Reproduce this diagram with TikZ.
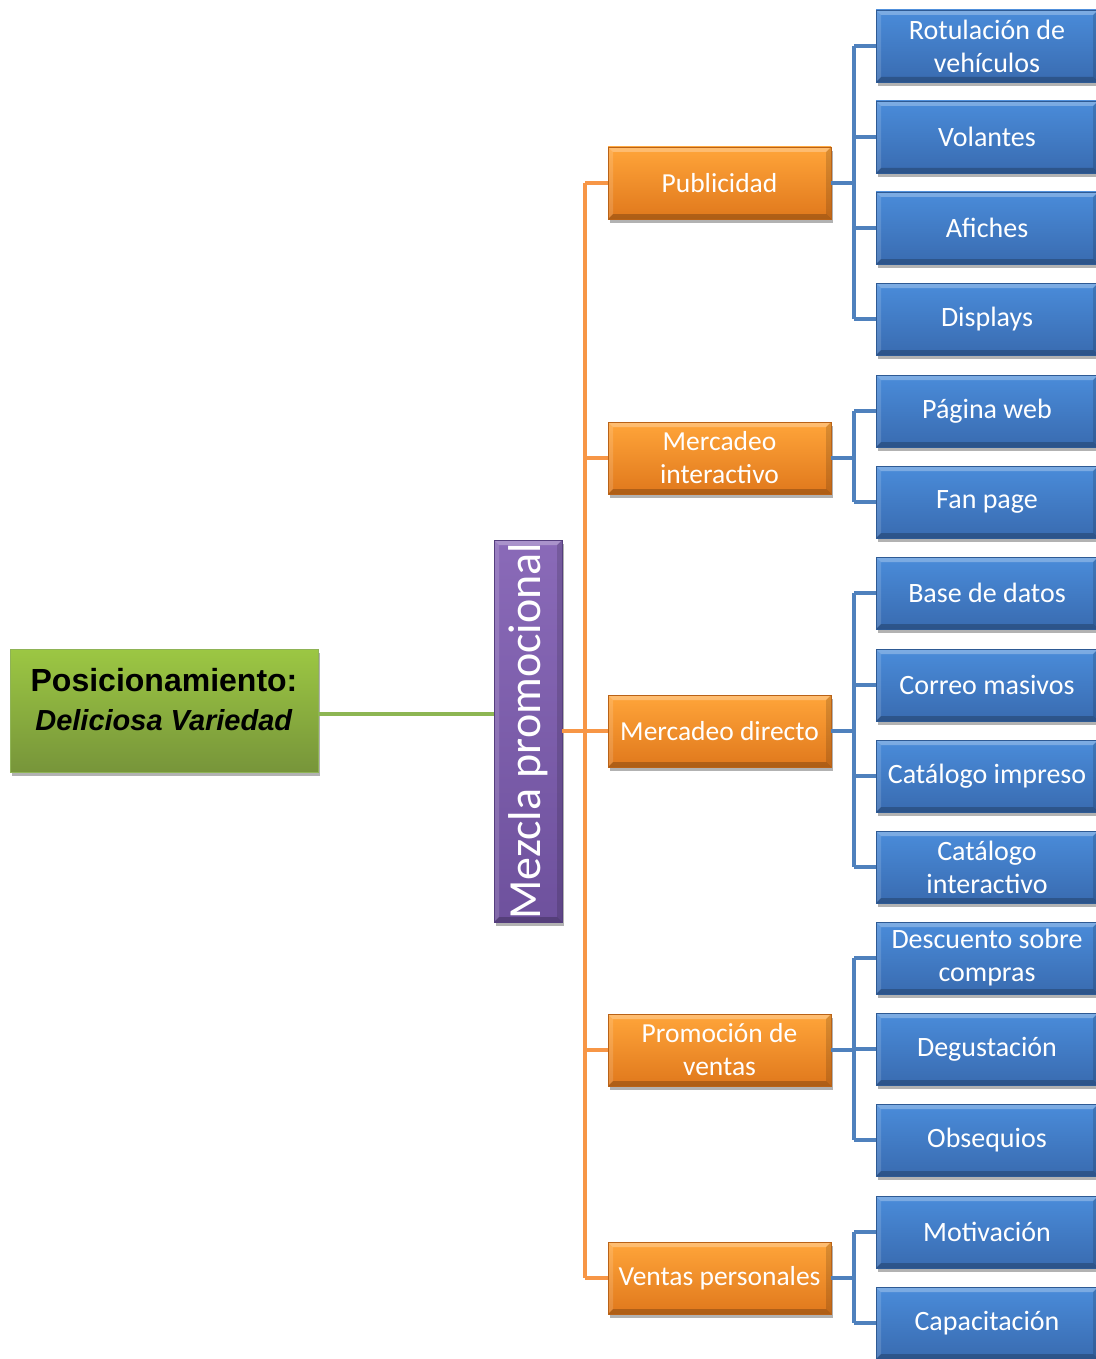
\documentclass[tikz,border=0pt]{standalone}
\usepackage{fontspec}
\setmainfont{Carlito}
\newfontfamily\arialf{Liberation Sans}
\usetikzlibrary{shadows}

\definecolor{orTop}{HTML}{FFA53A}
\definecolor{orBot}{HTML}{E0781C}
\definecolor{orEdge}{HTML}{B96217}
\definecolor{blTop}{HTML}{4A8CDA}
\definecolor{blBot}{HTML}{396BB0}
\definecolor{blEdge}{HTML}{2E5A94}
\definecolor{puTop}{HTML}{8A6AB8}
\definecolor{puBot}{HTML}{6E519D}
\definecolor{puEdge}{HTML}{553E7E}
\definecolor{grTop}{HTML}{9CC743}
\definecolor{grBot}{HTML}{77953A}
\definecolor{grEdge}{HTML}{8FB356}
\definecolor{orLine}{HTML}{F79646}
\definecolor{blLine}{HTML}{4F81BD}
\definecolor{grLine}{HTML}{8DB653}

\tikzset{
  bevel/.style={path picture={
    \fill[white,opacity=0.28] (path picture bounding box.north west) -- (path picture bounding box.north east)
      -- ([shift={(-5pt,-5pt)}]path picture bounding box.north east) -- ([shift={(5pt,-5pt)}]path picture bounding box.north west) -- cycle;
    \fill[white,opacity=0.14] (path picture bounding box.north west) -- (path picture bounding box.south west)
      -- ([shift={(5pt,5pt)}]path picture bounding box.south west) -- ([shift={(5pt,-5pt)}]path picture bounding box.north west) -- cycle;
    \fill[black,opacity=0.22] (path picture bounding box.south west) -- (path picture bounding box.south east)
      -- ([shift={(-5pt,5pt)}]path picture bounding box.south east) -- ([shift={(5pt,5pt)}]path picture bounding box.south west) -- cycle;
    \fill[black,opacity=0.14] (path picture bounding box.north east) -- (path picture bounding box.south east)
      -- ([shift={(-5pt,5pt)}]path picture bounding box.south east) -- ([shift={(-5pt,-5pt)}]path picture bounding box.north east) -- cycle;
  }},
  boxbase/.style={rectangle, inner sep=0pt, align=center, line width=0.8pt,
    drop shadow={shadow xshift=2pt, shadow yshift=-4pt, fill=black, opacity=0.3}},
  obox/.style={boxbase, bevel, draw=orEdge, top color=orTop, bottom color=orBot, text=white,
    minimum width=223pt, minimum height=72pt, font=\fontsize{27.5}{33}\selectfont},
  bbox/.style={boxbase, bevel, draw=blEdge, top color=blTop, bottom color=blBot, text=white,
    minimum width=222pt, minimum height=72pt, font=\fontsize{28}{33}\selectfont},
  pbox/.style={boxbase, bevel, draw=puEdge, top color=puTop, bottom color=puBot, text=white,
    minimum width=68pt, minimum height=382pt, font=\fontsize{46}{46}\selectfont},
  gbox/.style={boxbase, draw=grEdge, top color=grTop, bottom color=grBot,
    minimum width=308pt, minimum height=123pt},
  oline/.style={draw=orLine, line width=3.5pt, line join=round},
  bline/.style={draw=blLine, line width=3.5pt, line join=round},
  gline/.style={draw=grLine, line width=3.5pt},
}

\begin{document}
\begin{tikzpicture}[x=1pt,y=-1pt]
\useasboundingbox (0,0) rectangle (1095,1359);

% root
\node[gbox] (pos) at (164,710.5) {};
\node[text=black, align=center, font={\fontsize{29}{39}\selectfont\arialf\bfseries}] (postext) at (164,700)
  {{\fontsize{32}{39}\selectfont Posicionamiento:}\\\textit{Deliciosa Variedad}};

% centre
\node[pbox] (mez) at (528,731) {\rotatebox{90}{Mezcla promocional}};

% tools
\node[obox] (pub) at (719.5,183)  {Publicidad};
\node[obox] (mint) at (719.5,458) {Mercadeo\\interactivo};
\node[obox] (mdir) at (719.5,731) {Mercadeo directo};
\node[obox] (prom) at (719.5,1050) {Promoción de\\ventas};
\node[obox] (vent) at (719.5,1278) {Ventas personales};

% actions
\node[bbox] (b1)  at (987,46)   {Rotulación de\\vehículos};
\node[bbox] (b2)  at (987,137)  {Volantes};
\node[bbox] (b3)  at (987,228)  {Afiches};
\node[bbox] (b4)  at (987,319)  {Displays};
\node[bbox] (b5)  at (987,411)  {Página web};
\node[bbox] (b6)  at (987,502)  {Fan page};
\node[bbox] (b7)  at (987,593)  {Base de datos};
\node[bbox] (b8)  at (987,685)  {Correo masivos};
\node[bbox] (b9)  at (987,776)  {Catálogo impreso};
\node[bbox] (b10) at (987,867)  {Catálogo\\interactivo};
\node[bbox] (b11) at (987,958)  {Descuento sobre\\compras};
\node[bbox] (b12) at (987,1049) {Degustación};
\node[bbox] (b13) at (987,1140) {Obsequios};
\node[bbox] (b14) at (987,1232) {Motivación};
\node[bbox] (b15) at (987,1323) {Capacitación};

% root -> centre
\draw[gline] ([yshift=-3.5pt]pos.east) -- ([yshift=-3.5pt]pos.east -| mez.west);

% centre -> tools
\coordinate (ot) at (585,0);
\draw[oline] (mez.east) -- (mez.east -| ot);
\draw[oline] (pub.west -| ot) -- (vent.west -| ot);
\foreach \t in {pub,mint,mdir,prom,vent}
  \draw[oline] (\t.west -| ot) -- (\t.west);

% tools -> actions
\coordinate (bt) at (854,0);
\foreach \p/\first/\last/\kids in {pub/b1/b4/{b1,b2,b3,b4}, mint/b5/b6/{b5,b6},
    mdir/b7/b10/{b7,b8,b9,b10}, prom/b11/b13/{b11,b12,b13}, vent/b14/b15/{b14,b15}}{
  \draw[bline] (\p.east) -- (\p.east -| bt);
  \draw[bline] (\first.west -| bt) -- (\last.west -| bt);
  \foreach \k in \kids
    \draw[bline] (\k.west -| bt) -- (\k.west);
}
\end{tikzpicture}
\end{document}
